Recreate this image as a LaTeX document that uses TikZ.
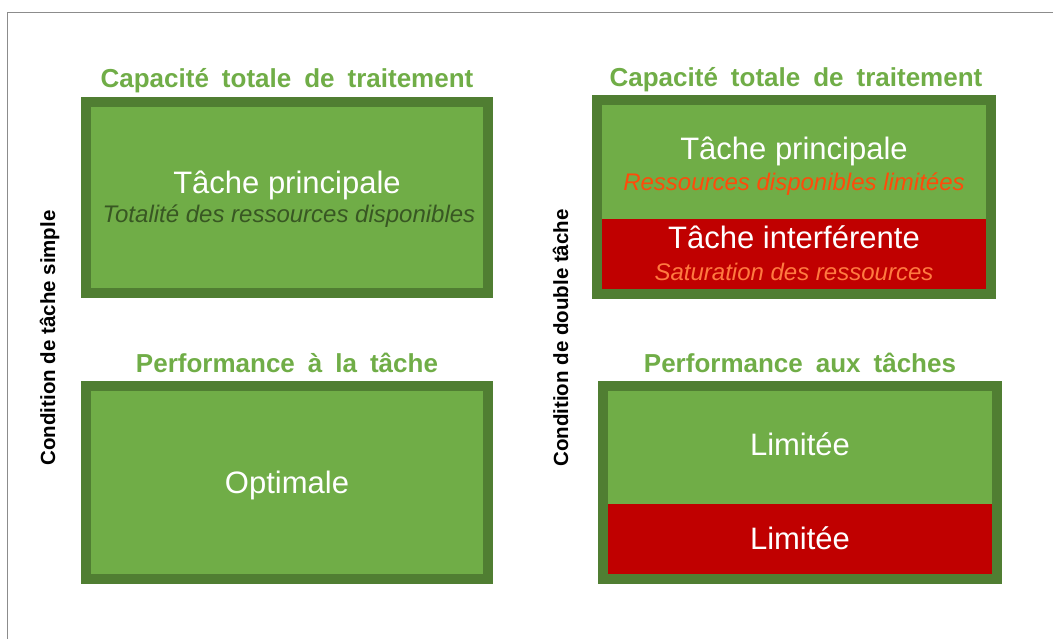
\documentclass[tikz,border=0pt]{standalone}
\usepackage{fontspec}
\setmainfont{Liberation Sans}

\definecolor{vertclair}{HTML}{70AD47}
\definecolor{vertfonce}{HTML}{507E32}
\definecolor{vertnoir}{HTML}{385723}
\definecolor{rouge}{HTML}{C00000}
\definecolor{orange1}{HTML}{FF4B0A}
\definecolor{orange2}{HTML}{FF7A40}

\newcommand\largesp{\spaceskip=0.5em\relax}

\tikzset{
  cadre/.style={draw=gray!90, line width=1.5pt},
  capbox/.style={draw=vertfonce, fill=vertclair, line width=10pt,
    inner sep=0pt, minimum width=#1},
  bande/.style={fill=rouge, inner sep=0pt, minimum width=384pt, minimum height=70pt},
  ttl/.style={anchor=base, inner sep=0pt, text=vertclair,
    font=\fontsize{26}{30}\selectfont\bfseries\largesp},
  grand/.style={anchor=base, inner sep=0pt, text=white,
    font=\fontsize{31}{36}\selectfont},
  petit/.style={anchor=base, inner sep=0pt,
    font=\fontsize{24}{28}\selectfont\itshape},
  cote/.style={anchor=base, inner sep=0pt, rotate=90,
    font=\fontsize{20.5}{24}\selectfont\bfseries}
}

\begin{document}
\begin{tikzpicture}[x=1pt, y=-1pt]

  \useasboundingbox (0,0) rectangle (1053,639);
  \draw[cadre] (7.5,639) -- (7.5,12.5) -- (1053,12.5);

  % condition de tache simple
  \node[cote] (simple) at (55,338) {Condition de tâche simple};

  \node[ttl] (capA) at (287,88) {Capacité totale de traitement};
  \node[capbox=402pt, minimum height=191pt] (boxA) at (287,197.5) {};
  \node[grand] (tpA) at (287,194) {Tâche principale};
  \node[petit, text=vertnoir] (resA) at (289,223) {Totalité des ressources disponibles};

  \node[ttl] (perfA) at (287,372) {Performance à la tâche};
  \node[capbox=402pt, minimum height=193pt] (boxC) at (287,482.5) {};
  \node[grand] (optA) at (287,493) {Optimale};

  % condition de double tache
  \node[cote] (double) at (568,338) {Condition de double tâche};

  \node[ttl] (capB) at (796,87) {Capacité totale de traitement};
  \node[capbox=394pt, minimum height=194pt] (boxB) at (794,197) {};
  \node[bande] (bandB) at (794,254) {};
  \node[grand] (tpB) at (794,160) {Tâche principale};
  \node[petit, text=orange1] (resB) at (794,191) {Ressources disponibles limitées};
  \node[grand] (tiB) at (794,249) {Tâche interférente};
  \node[petit, text=orange2] (satB) at (794,281) {Saturation des ressources};

  \node[ttl] (perfB) at (800,372) {Performance aux tâches};
  \node[capbox=394pt, minimum height=193pt] (boxD) at (800,482.5) {};
  \node[bande] (bandD) at (800,539) {};
  \node[grand] (limD1) at (800,455) {Limitée};
  \node[grand] (limD2) at (800,549) {Limitée};

\end{tikzpicture}
\end{document}
